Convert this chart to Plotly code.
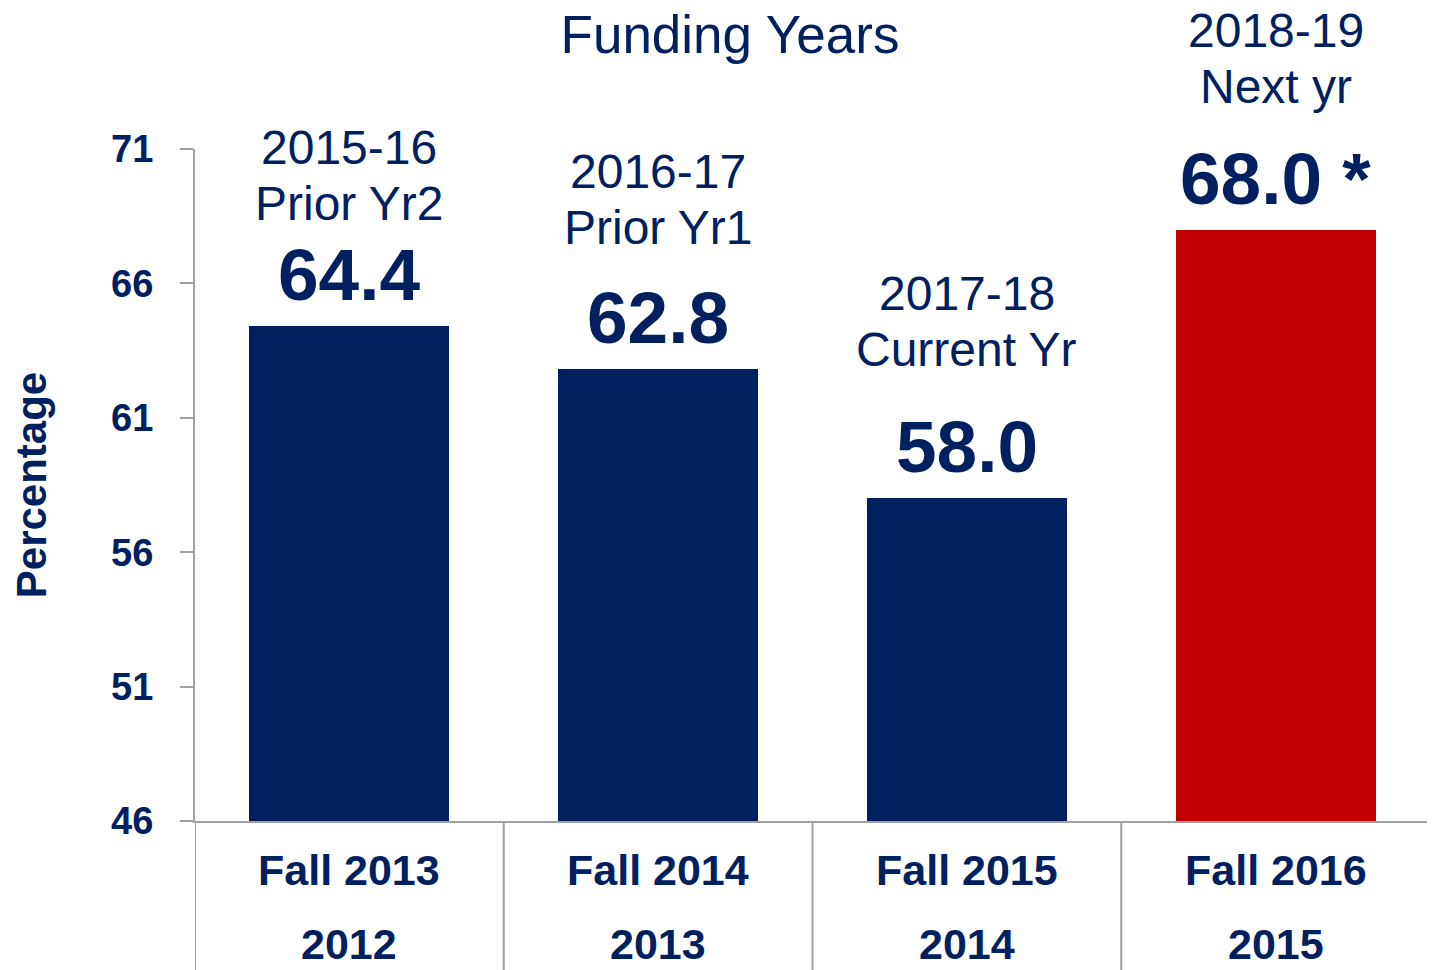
import plotly.graph_objects as go

# ---- data ----
fall_labels = ["Fall 2013", "Fall 2014", "Fall 2015", "Fall 2016"]
year_labels = ["2012", "2013", "2014", "2015"]
funding_years = ["2015-16", "2016-17", "2017-18", "2018-19"]
funding_desc = ["Prior Yr2", "Prior Yr1", "Current Yr", "Next yr"]
values = [64.4, 62.8, 58.0, 68.0]
value_suffix = ["", "", "", " *"]
y_ticks = [46, 51, 56, 61, 66, 71]

# ---- style ----
NAVY = "#002060"
RED = "#C00000"
GRAY = "#A0A0A0"
bar_colors = [NAVY, NAVY, NAVY, RED]
label_shift = [94, 113, 120, 115]   # px above bar top for the second label line
LINE_GAP = 56
FONT = "Liberation Sans, Arial, sans-serif"

xs = list(range(len(values)))

fig = go.Figure()
fig.add_trace(go.Bar(
    x=xs, y=values, width=0.648,
    marker=dict(color=bar_colors, line=dict(width=0)),
    hoverinfo="skip", showlegend=False,
))

for i, v in enumerate(values):
    fig.add_annotation(x=xs[i], y=v, xref="x", yref="y",
                       text=f"<b>{v:.1f}{value_suffix[i]}</b>",
                       showarrow=False, yanchor="bottom", yshift=9,
                       font=dict(size=73, color=NAVY, family=FONT))
    fig.add_annotation(x=xs[i], y=v, xref="x", yref="y",
                       text=funding_desc[i],
                       showarrow=False, yanchor="bottom", yshift=label_shift[i],
                       font=dict(size=48, color=NAVY, family=FONT))
    fig.add_annotation(x=xs[i], y=v, xref="x", yref="y",
                       text=funding_years[i],
                       showarrow=False, yanchor="bottom",
                       yshift=label_shift[i] + LINE_GAP,
                       font=dict(size=48, color=NAVY, family=FONT))
    fig.add_annotation(x=xs[i], y=0, xref="x", yref="paper",
                       text=f"<b>{fall_labels[i]}</b>", showarrow=False,
                       yanchor="middle", yshift=-49,
                       font=dict(size=43, color=NAVY, family=FONT))
    fig.add_annotation(x=xs[i], y=0, xref="x", yref="paper",
                       text=f"<b>{year_labels[i]}</b>", showarrow=False,
                       yanchor="middle", yshift=-123,
                       font=dict(size=43, color=NAVY, family=FONT))

for k in range(len(values) + 1):
    fig.add_shape(type="line", xref="x", yref="paper",
                  x0=k - 0.5, x1=k - 0.5, y0=0, y1=-0.25,
                  line=dict(color=GRAY, width=2))

fig.update_layout(
    width=1427, height=962,
    margin=dict(l=187, r=5, t=141, b=149),
    paper_bgcolor="white", plot_bgcolor="white",
    bargap=0,
    title=dict(text="Funding Years", x=(730 - 8) / 1427, xanchor="center",
               y=1 - (34 - 8) / 962, yanchor="middle",
               font=dict(size=53, color=NAVY, family=FONT)),
    xaxis=dict(range=[-0.5, len(values) - 0.5], showticklabels=False,
               showgrid=False, zeroline=False, showline=True,
               linecolor=GRAY, linewidth=2, ticks=""),
    yaxis=dict(range=[y_ticks[0], y_ticks[-1]], tickvals=y_ticks,
               ticktext=[f"<b>{t}</b>" for t in y_ticks],
               showgrid=False, zeroline=False, showline=True,
               linecolor=GRAY, linewidth=2, ticks="outside", ticklen=13,
               tickcolor=GRAY, tickwidth=2, ticklabelstandoff=19,
               tickfont=dict(size=38, color=NAVY, family=FONT),
               title=dict(text="<b>Percentage</b>", standoff=54,
                          font=dict(size=42, color=NAVY, family=FONT))),
)

fig.write_html("out.html")
